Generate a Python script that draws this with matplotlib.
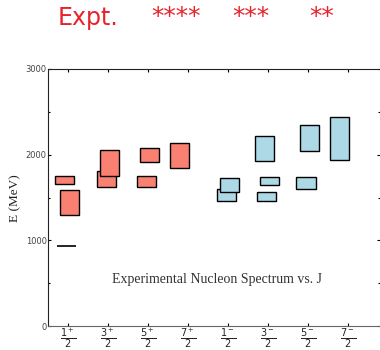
import matplotlib
matplotlib.use("Agg")
import matplotlib.pyplot as plt
from matplotlib.ticker import MultipleLocator

# positive parity states: box centre, lower and upper mass (MeV)
pos_x = [0.92, 1.045, 1.96, 2.04, 2.955, 3.04, 3.79]
pos_lo = [1660, 1290, 1620, 1750, 1620, 1920, 1840]
pos_hi = [1750, 1585, 1815, 2050, 1750, 2075, 2135]

# negative parity states
neg_x = [4.955, 5.04, 5.91, 6.04, 5.955, 7.03, 6.95, 7.78]
neg_lo = [1455, 1560, 1925, 1645, 1455, 2045, 1595, 1940]
neg_hi = [1605, 1730, 2220, 1745, 1570, 2350, 1745, 2435]

# nucleon ground state
nucleon_x = 0.96
nucleon_e = 939

j_ticks = [1, 2, 3, 4, 5, 6, 7, 8]
j_labels = [r'$\frac{1^+}{2}$', r'$\frac{3^+}{2}$', r'$\frac{5^+}{2}$', r'$\frac{7^+}{2}$',
            r'$\frac{1^-}{2}$', r'$\frac{3^-}{2}$', r'$\frac{5^-}{2}$', r'$\frac{7^-}{2}$']

stars = ['****', '***', '**']
star_x = [176, 251, 322]

W = 0.48
RED = '#e8212b'

fig = plt.figure(figsize=(3.8, 3.5), dpi=100)
ax = fig.add_axes([48 / 380, 1 - 326 / 350, 1 - 48 / 380, (326 - 69) / 350])

ax.bar(pos_x, [h - l for h, l in zip(pos_hi, pos_lo)], bottom=pos_lo, width=W,
       color='salmon', edgecolor='black', linewidth=1.0)
ax.bar(neg_x, [h - l for h, l in zip(neg_hi, neg_lo)], bottom=neg_lo, width=W,
       color='lightblue', edgecolor='black', linewidth=1.0)
ax.hlines(nucleon_e, nucleon_x - W / 2, nucleon_x + W / 2, color='black', lw=1.2)

ax.set_xlim(0.5, 8.8)
ax.set_ylim(0, 3000)
ax.set_xticks(j_ticks)
ax.set_xticklabels(j_labels)
ax.yaxis.set_major_locator(MultipleLocator(1000))
ax.yaxis.set_minor_locator(MultipleLocator(500))
ax.tick_params(axis='both', which='both', direction='in', top=True, right=True,
               labelsize=6, labelcolor='#444444', length=2.5, width=0.8, pad=1)
ax.tick_params(axis='y', which='minor', length=1.5)
ax.tick_params(axis='x', labelsize=10, labelcolor='#222222', pad=0.5)
ax.spines['right'].set_visible(False)
for s in ['left', 'top']:
    ax.spines[s].set_color('#222222')
ax.spines['bottom'].set_color('#666666')

ax.text(0.508, 0.179, 'Experimental Nucleon Spectrum vs. J', transform=ax.transAxes,
        ha='center', va='center', fontsize=10, family='Liberation Serif', color='#333333')

fig.text(15 / 380, 1 - 198 / 350, 'E (MeV)', rotation=90, ha='center', va='center',
         fontsize=9.5, family='Liberation Serif', color='#222222')

fig.text(87.5 / 380, 1 - 18 / 350, 'Expt.', ha='center', va='center', fontsize=17, color=RED)
for s, x in zip(stars, star_x):
    fig.text(x / 380, 1 - 17 / 350, s, ha='center', va='center', fontsize=18, color=RED)

fig.savefig('out.png', dpi=100)
